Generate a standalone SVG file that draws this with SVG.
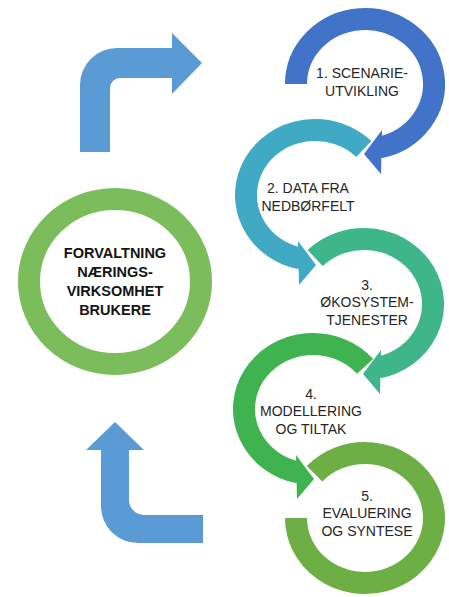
<svg xmlns="http://www.w3.org/2000/svg" width="449" height="597" viewBox="0 0 449 597">
<style>
.band{fill:none;stroke-width:22;stroke-linecap:butt}
.lbl{font-family:"Liberation Sans",Arial,sans-serif;font-size:14px;fill:#262626;text-anchor:middle}
.hub{font-family:"Liberation Sans",Arial,sans-serif;font-size:14.5px;font-weight:bold;fill:#141414;text-anchor:middle}
.blue{fill:#5B9BD5}
</style>
<rect width="449" height="597" fill="#ffffff"/>
<g id="connectors">
<path class="blue" d="M80,152 L80,85 A37,37 0 0 1 117,48 L172,48 L172,33 L202,63 L172,94 L172,78 L120,78 A10,10 0 0 0 110,88 L110,152 Z"/>
<path class="blue" d="M101,450 L101,506 A37,37 0 0 0 138,543 L203,543 L203,515 L144,515 A15,15 0 0 1 129,500 L129,450 L144,450 L115,422 L86,450 Z"/>
</g>
<g id="hub">
<ellipse cx="115" cy="281.5" rx="86" ry="82.5" fill="none" stroke="#7ABD5A" stroke-width="22"/>
<text class="hub" x="115" y="258">FORVALTNING</text>
<text class="hub" x="115" y="277">NÆRINGS-</text>
<text class="hub" x="115" y="296">VIRKSOMHET</text>
<text class="hub" x="115" y="315">BRUKERE</text>
</g>
<g id="step1">
<path class="band" stroke="#4173C9" d="M296,84 A69,65 0 1 1 379.35,147.58"/>
<polygon fill="#4173C9" points="382,130 381,174 364,154"/>
<text class="lbl" x="362" y="78">1. SCENARIE-</text>
<text class="lbl" x="362" y="96">UTVIKLING</text>
</g>
<g id="step2">
<path class="band" stroke="#40AAC5" d="M363.79,149.04 A69,65 0 1 0 300.65,258.58"/>
<polygon fill="#40AAC5" points="298,241 299,285 316,265"/>
<text class="lbl" x="308" y="193">2. DATA FRA</text>
<text class="lbl" x="308" y="211">NEDBØRFELT</text>
</g>
<g id="step3">
<path class="band" stroke="#3EB68A" d="M315.21,258.04 A69,65 0 1 1 378.35,367.58"/>
<polygon fill="#3EB68A" points="381,350 380,394 363,374"/>
<text class="lbl" x="367" y="289.5">3.</text>
<text class="lbl" x="367" y="307">ØKOSYSTEM-</text>
<text class="lbl" x="367" y="324.5">TJENESTER</text>
</g>
<g id="step4">
<path class="band" stroke="#3EB350" d="M365.07,366.35 A69,65 0 1 0 298.65,472.58"/>
<polygon fill="#3EB350" points="296,455 297,499 314,479"/>
<text class="lbl" x="311" y="398.5">4.</text>
<text class="lbl" x="311" y="416">MODELLERING</text>
<text class="lbl" x="311" y="433.5">OG TILTAK</text>
</g>
<g id="step5">
<path class="band" stroke="#6DAE45" d="M296,518 A69,65 0 1 0 314.54,473.67"/>
<text class="lbl" x="367" y="500.5">5.</text>
<text class="lbl" x="367" y="518">EVALUERING</text>
<text class="lbl" x="367" y="535.5">OG SYNTESE</text>
</g>
</svg>
